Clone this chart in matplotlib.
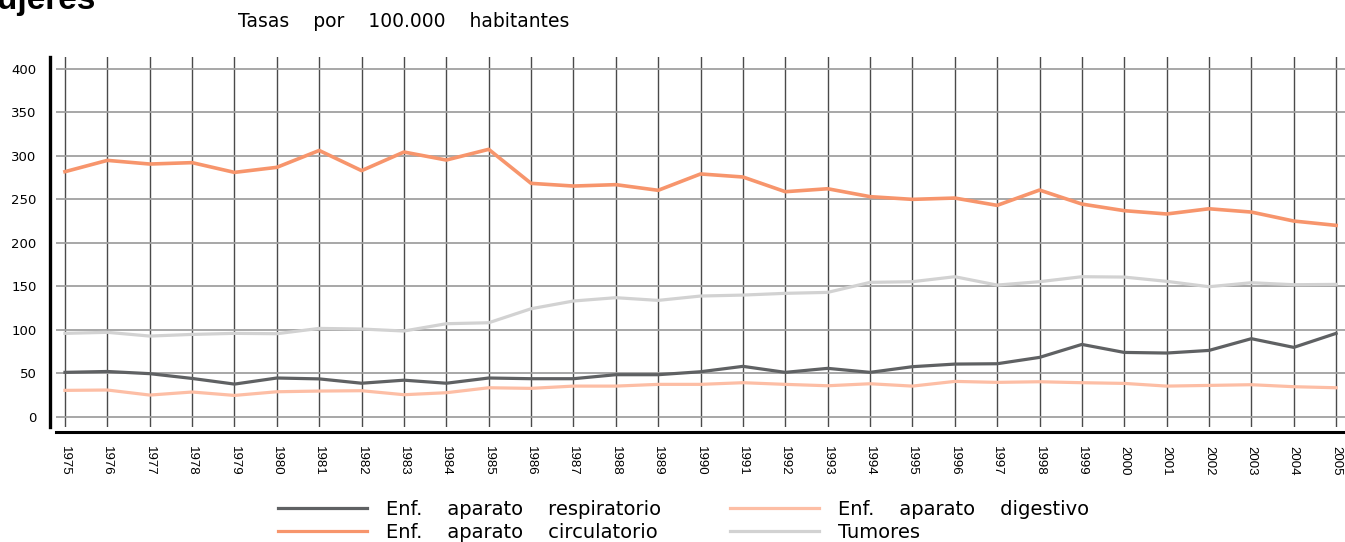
import matplotlib
matplotlib.use("Agg")
import matplotlib.pyplot as plt
from matplotlib.lines import Line2D
from matplotlib import font_manager

years = list(range(1975, 2006))
year_labels = [str(y) for y in years]

respiratorio = [51, 52, 49.5, 44, 37.5, 44.5, 43.5, 38.5, 42, 38.5, 44.5,
                43.7, 43.7, 48.3, 48.3, 51.7, 57.9, 51, 55.6, 51,
                57.5, 60.5, 60.9, 68.2, 83.1, 73.9, 73.2, 76.2, 89.7, 79.7, 95.8]
circulatorio = [281.6, 294.6, 290.4, 292, 280.8, 286.6, 306, 282.8, 304.2, 295, 307.3,
                268.2, 265.1, 266.7, 260.2, 279, 275.5, 258.6, 262, 252.9,
                249.8, 251.3, 242.9, 260.5, 244.4, 236.8, 233, 239, 235.2, 224.9, 219.9]
tumores = [95.8, 97, 92.7, 94.6, 95.8, 95.4, 101.5, 100.8, 98.5, 106.9, 108,
           124.1, 133, 136.8, 133.7, 138.7, 139.8, 141.8, 142.9, 154.4,
           155.2, 160.9, 151.3, 155.2, 160.9, 160.5, 155.6, 149.4, 154, 151.7, 152.1]
digestivo = [30.3, 30.7, 24.9, 28.4, 24.5, 28.7, 29.5, 29.9, 25.3, 27.6, 33.3,
             32.6, 35.2, 35.2, 37.2, 37.2, 39.1, 37.2, 35.6, 37.9,
             35.2, 40.6, 39.5, 40.2, 39.1, 38.3, 35.2, 36, 36.8, 34.5, 33.3]

y_ticks = [0, 50, 100, 150, 200, 250, 300, 350, 400]

colors = {"resp": "#5f6163", "circ": "#f7956c", "dig": "#fdbea5", "tum": "#d2d2d2"}

# pick a narrow font for the year labels if one is installed
names = {f.name for f in font_manager.fontManager.ttflist}
if "Liberation Sans Narrow" in names:
    xfam, xsize = "Liberation Sans Narrow", 11
else:
    xfam, xsize = "Liberation Sans", 9.5

W, H = 1345, 542
fig = plt.figure(figsize=(W / 100, H / 100), dpi=100)
fig.patch.set_facecolor("white")

ax = fig.add_axes([56 / W, 1 - 427 / H, (W - 56) / W, (427 - 57) / H])
ax.set_xlim(1974.788, 2005.21)
ax.set_ylim(-11.8, 413.4)

ax.set_xticks(years)
ax.set_yticks(y_ticks)
ax.xaxis.grid(True, color="#4a4a4a", linewidth=1.0, zorder=0)
ax.yaxis.grid(True, color="#a0a0a0", linewidth=1.3, zorder=0)
ax.set_axisbelow(True)

ax.plot(years, tumores, color=colors["tum"], lw=2.3, zorder=2)
ax.plot(years, respiratorio, color=colors["resp"], lw=2.3, zorder=3)
ax.plot(years, circulatorio, color=colors["circ"], lw=2.6, zorder=3)
ax.plot(years, digestivo, color=colors["dig"], lw=2.3, zorder=3)

for s in ["top", "right"]:
    ax.spines[s].set_visible(False)
ax.spines["left"].set_position(("outward", 4))
ax.spines["bottom"].set_position(("outward", 3.7))
ax.spines["left"].set_linewidth(2.4)
ax.spines["bottom"].set_linewidth(2.2)
ax.spines["left"].set_color("black")
ax.spines["bottom"].set_color("black")

ax.set_xticklabels(year_labels, rotation=-90, fontsize=xsize, family=xfam)
ax.set_yticklabels([str(v) for v in y_ticks], fontsize=9.5, family="DejaVu Sans")
ax.tick_params(axis="x", length=0, pad=10)
ax.tick_params(axis="y", length=0, pad=10)
for lab in ax.get_xticklabels():
    lab.set_va("top")
    lab.set_ha("center")

# titles
fig.text(-30 / W, 1 - 9 / H, "Mujeres", fontsize=24, fontweight="bold",
         family=["Liberation Sans", "DejaVu Sans"], va="baseline", ha="left")
fig.text(404 / W, 1 - 26.7 / H, "Tasas    por    100.000    habitantes", fontsize=13.5,
         family="DejaVu Sans", va="baseline", ha="center")

# legends
fs = 14
common = dict(frameon=False, loc="upper left", borderpad=0, borderaxespad=0,
              handlelength=4.6, handletextpad=0.95, labelspacing=0.18,
              prop={"family": "DejaVu Sans", "size": fs})
h1 = [Line2D([], [], color=colors["resp"], lw=2.3), Line2D([], [], color=colors["circ"], lw=2.3)]
h2 = [Line2D([], [], color=colors["dig"], lw=2.3), Line2D([], [], color=colors["tum"], lw=2.3)]
fig.legend(h1, ["Enf.    aparato    respiratorio", "Enf.    aparato    circulatorio"],
           bbox_to_anchor=(278 / W, 1 - 500 / H), **common)
fig.legend(h2, ["Enf.    aparato    digestivo", "Tumores"],
           bbox_to_anchor=(730 / W, 1 - 500 / H), **common)

fig.savefig("out.png", dpi=100, facecolor="white")
